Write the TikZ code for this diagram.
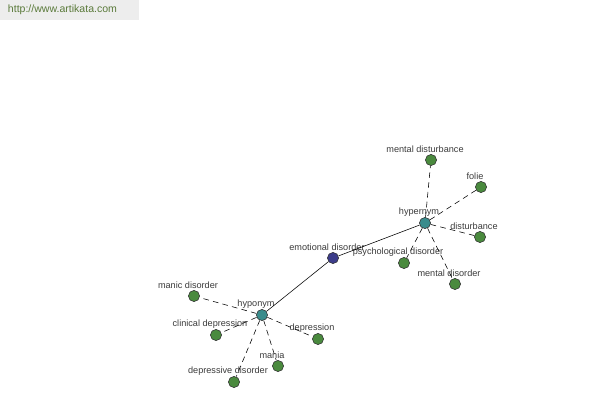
\documentclass[tikz,border=0pt]{standalone}
\usepackage{fontspec}
\setmainfont{Liberation Sans}
\definecolor{synset}{HTML}{3C3C8A}
\definecolor{relnode}{HTML}{3A8C8C}
\definecolor{wordnode}{HTML}{4A8A3E}
\definecolor{labelgray}{HTML}{3A3A3A}
\definecolor{headgray}{HTML}{EDEDED}
\definecolor{headtext}{HTML}{5A7A3A}
\tikzset{
  dot/.style={circle,draw=black!80,line width=0.4pt,inner sep=0pt,minimum size=0.28cm},
  lbl/.style={font=\fontsize{6.5}{7}\selectfont,text=labelgray,inner sep=0pt,xshift=-0.15cm,label distance=0.02cm},
  link/.style={dash pattern=on 4pt off 3pt,line width=0.4pt},
}
\begin{document}
\begin{tikzpicture}[x=0.025cm,y=-0.025cm]
	\useasboundingbox (0,0) rectangle (600,400);
	% header
	\fill[headgray] (0,0) rectangle (139,20);
	\node[font=\fontsize{7.5}{9}\selectfont,text=headtext,anchor=west] (site) at (3,10) {http://www.artikata.com};
	% centre and relation nodes
	\node[dot,fill=synset,label={[lbl]above:emotional disorder}] (emo) at (333,258) {};
	\node[dot,fill=relnode,label={[lbl]above:hypernym}] (hyper) at (425,223) {};
	\node[dot,fill=relnode,label={[lbl]above:hyponym}] (hypo) at (262,315) {};
	% hypernyms
	\node[dot,fill=wordnode,label={[lbl]above:mental disturbance}] (mdist) at (431,160) {};
	\node[dot,fill=wordnode,label={[lbl]above:folie}] (folie) at (481,187) {};
	\node[dot,fill=wordnode,label={[lbl]above:disturbance}] (dist) at (480,237) {};
	\node[dot,fill=wordnode,label={[lbl]above:psychological disorder}] (psych) at (404,263) {};
	\node[dot,fill=wordnode,label={[lbl]above:mental disorder}] (mdis) at (455,284) {};
	% hyponyms
	\node[dot,fill=wordnode,label={[lbl]above:manic disorder}] (manic) at (194,296) {};
	\node[dot,fill=wordnode,label={[lbl]above:clinical depression}] (clin) at (216,335) {};
	\node[dot,fill=wordnode,label={[lbl]above:depression}] (depr) at (318,339) {};
	\node[dot,fill=wordnode,label={[lbl]above:mania}] (mania) at (278,366) {};
	\node[dot,fill=wordnode,label={[lbl]above:depressive disorder}] (deprdis) at (234,382) {};
	% edges
	\draw[line width=0.4pt] (emo) -- (hyper);
	\draw[line width=0.4pt] (emo) -- (hypo);
	\foreach \w in {mdist,folie,dist,psych,mdis}
		\draw[link] (hyper) -- (\w);
	\foreach \w in {manic,clin,depr,mania,deprdis}
		\draw[link] (hypo) -- (\w);
\end{tikzpicture}
\end{document}
